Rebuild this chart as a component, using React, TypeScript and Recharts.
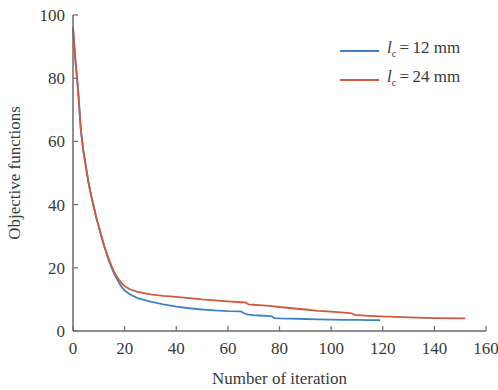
import React from 'react';
import { LineChart, Line, XAxis, YAxis } from 'recharts';

const iterations = [0,1,2,3,4,5,6,7,8,9,10,11,12,13,14,15,16,17,18,19,20,22,25,30,35,40,45,50,55,60,65,66,67,68,70,72,75,77,78,80,90,95,100,105,108,109,110,115,119,120,130,140,152];
const series12 = [96,85,76,64,57,52,47,43,39.5,36,33,30,27,24.5,22,20,18,16.5,15,13.8,12.8,11.6,10.4,9.3,8.4,7.7,7.2,6.8,6.5,6.3,6.2,5.8,5.3,5.2,5.0,4.9,4.8,4.6,4.1,4.0,3.8,3.7,3.6,3.55,3.5,3.5,3.5,3.45,3.4,null,null,null,null];
const series24 = [96,85,76,64,57,52,47,43,39.5,36,33,30,27.2,24.8,22.5,20.5,18.6,17.2,16,15,14.2,13.2,12.4,11.6,11.1,10.8,10.4,10.0,9.7,9.4,9.1,9.05,9.0,8.4,8.3,8.2,8.0,7.85,7.8,7.6,6.8,6.4,6.1,5.8,5.6,5.1,5.05,4.8,4.65,4.6,4.3,4.1,4.0];
const xTicks = [0,20,40,60,80,100,120,140,160];
const yTicks = [0,20,40,60,80,100];
const legendLabels = ['12 mm', '24 mm'];

const data = iterations.map((x, i) => ({ x, a: series12[i], b: series24[i] }));

const BLUE = '#3f82c6';
const RED = '#cf5a3d';
const AXIS = '#6b6b6b';
const TEXT = '#3a3a3a';
const FONT = '"Liberation Serif", "Times New Roman", serif';
const FS = 17;

const XTick = (props: any) => {
  const { x, y, payload } = props;
  const axisY = y - 4;
  return (
    <g>
      <line x1={x} x2={x} y1={axisY} y2={axisY - 5} stroke={AXIS} strokeWidth={1.2} />
      <text x={x} y={axisY + 23} textAnchor="middle" fontFamily={FONT} fontSize={FS} fill={TEXT}>{payload.value}</text>
    </g>
  );
};

const YTick = (props: any) => {
  const { x, y, payload } = props;
  const axisX = x + 4;
  return (
    <g>
      <line x1={axisX} x2={axisX + 5} y1={y} y2={y} stroke={AXIS} strokeWidth={1.2} />
      <text x={axisX - 8} y={y + 6} textAnchor="end" fontFamily={FONT} fontSize={FS} fill={TEXT}>{payload.value}</text>
    </g>
  );
};

const LegendBox = () => (
  <div style={{ position: 'absolute', left: 337, top: 36, fontFamily: FONT, fontSize: FS, color: TEXT, lineHeight: '23px' }}>
    {[BLUE, RED].map((c, i) => (
      <div key={i} style={{ display: 'flex', alignItems: 'center' }}>
        <svg width={44} height={10} style={{ marginRight: 6 }}>
          <line x1={3} x2={42} y1={5} y2={5} stroke={c} strokeWidth={2} />
        </svg>
        <span><i>l</i><sub style={{ fontSize: 10 }}>c</sub>{'\u2009=\u2009'}{legendLabels[i]}</span>
      </div>
    ))}
  </div>
);

export default function App() {
  return (
    <div style={{ position: 'absolute', left: 0, top: 0, width: 498, height: 390, background: '#fff' }}>
      <LineChart width={498} height={390} data={data} margin={{ top: 15, right: 12, left: 0, bottom: 0 }}>
        <XAxis
          dataKey="x"
          type="number"
          domain={[0, 160]}
          ticks={xTicks}
          tickSize={0}
          tickMargin={4}
          tick={<XTick />}
          height={59}
          stroke={AXIS}
          strokeWidth={1.5}
          label={{ value: 'Number of iteration', position: 'insideBottom', offset: 6, style: { fontFamily: FONT, fontSize: FS, fill: TEXT } }}
        />
        <YAxis
          type="number"
          domain={[0, 100]}
          ticks={yTicks}
          tickSize={0}
          tickMargin={4}
          tick={<YTick />}
          width={73}
          stroke={AXIS}
          strokeWidth={1.5}
          label={{ value: 'Objective functions', angle: -90, position: 'insideLeft', offset: 14, style: { fontFamily: FONT, fontSize: FS, fill: TEXT, textAnchor: 'middle' } }}
        />
        <Line dataKey="a" stroke={BLUE} strokeWidth={1.8} dot={false} isAnimationActive={false} connectNulls={false} />
        <Line dataKey="b" stroke={RED} strokeWidth={1.8} dot={false} isAnimationActive={false} connectNulls={false} />
      </LineChart>
      <LegendBox />
    </div>
  );
}
